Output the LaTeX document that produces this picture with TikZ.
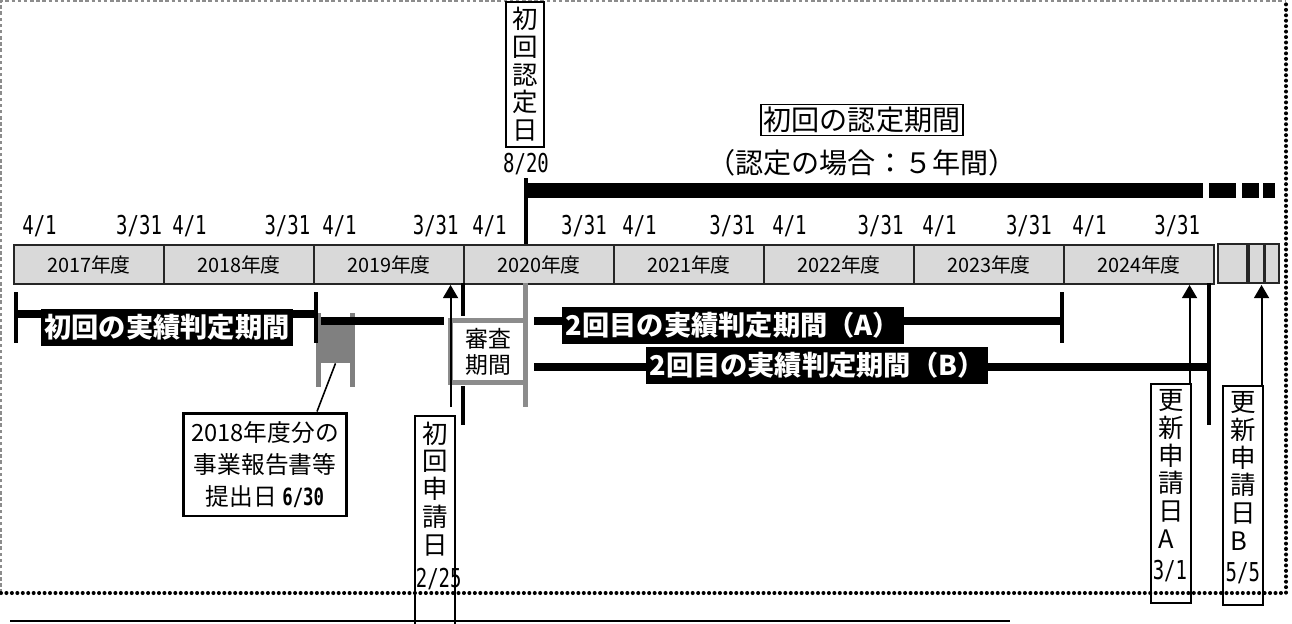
\documentclass[tikz,border=0pt]{standalone}
\usepackage{fontspec}
\setmainfont{Noto Sans CJK JP}
\newfontfamily\narrowfont[FakeStretch=0.73]{DejaVu Sans Mono}
\newcommand{\datefont}{\narrowfont\fontsize{14.8}{16}\selectfont}
\usetikzlibrary{arrows.meta}

\begin{document}
\begin{tikzpicture}[x=0.02cm,y=-0.02cm]
  \colorlet{barfill}{black!15}
  \colorlet{blockgray}{black!50}
  \colorlet{framegray}{black!45}
  \tikzset{
    yearbox/.style={draw=black!85,line width=1.1pt,fill=barfill,minimum width=3cm,minimum height=0.78cm,inner sep=0pt,anchor=north west,font=\fontsize{11.3}{13}\selectfont},
    datelbl/.style={inner sep=0pt,font=\datefont},
    vtext/.style={inner xsep=3.8pt,inner ysep=3pt,text width=14.5pt,align=left,font=\fontsize{14.5}{15.8}\selectfont},
    vframe/.style={line width=1.1pt},
    blacklbl/.style={fill=black,text=white,inner xsep=2pt,inner ysep=0pt,minimum height=0.74cm,font=\bfseries\fontsize{15.5}{17}\selectfont},
    period/.style={line width=4.5pt},
    endtick/.style={line width=2.3pt},
    arr/.style={line width=1.1pt,-{Triangle[width=8.5pt,length=7.5pt]}}
  }
  \useasboundingbox (0,0) rectangle (1292,623);

  \draw[framegray,line width=0.6pt,dash pattern=on 2pt off 1.5pt] (1,593) -- (1,1) -- (1286,1);
  \draw[line width=2.3pt,line cap=round,dash pattern=on 0pt off 3.1pt] (1,593) -- (1286,593) -- (1286,1);
  \draw[line width=0.9pt] (10,621) -- (1010,621);

  \foreach \i/\yr in {0/2017,1/2018,2/2019,3/2020,4/2021,5/2022,6/2023,7/2024}
    \node[yearbox] (y\yr) at (13+150*\i,244) {\yr 年度};
  \foreach \a/\b in {1218/1247,1249/1264,1265/1279}
    \draw[draw=black!85,line width=1.1pt,fill=barfill] (\a,244) rectangle (\b,283);
  \foreach \i in {0,...,7}
    \node[datelbl,anchor=base west] (apr\i) at (22+150*\i,234) {4/1};
  \foreach \i in {1,...,8}
    \node[datelbl,anchor=base east] (mar\i) at (14+148.3*\i,234) {3/31};

  \node[vtext,draw,vframe,anchor=north] (nintei) at (525,1) {初\\回\\認\\定\\日};
  \node[datelbl,anchor=base] (d820) at (526,172) {8/20};
  \draw[line width=2.8pt] ([yshift=-2pt]d820.south) -- (d820.south |- y2020.north);
  \fill (524.6,183) rectangle (1203,198);
  \foreach \a/\b in {1209/1236,1242/1259,1263/1275}
    \fill (\a,183) rectangle (\b,198);
  \node[draw,line width=0.9pt,inner sep=1.5pt,font=\fontsize{16}{18}\selectfont] (kikan) at (862,120) {初回の認定期間};
  \node[font=\fontsize{16}{18}\selectfont] (kikan5) at (862,163) {（認定の場合：５年間）};

  \draw[period] (16,314) -- (316,314);
  \node[fill=blockgray,minimum width=0.78cm,minimum height=0.92cm,inner sep=0pt] (teishutsu) at (335.5,340) {};
  \draw[blockgray,line width=3.2pt] (318.5,313) -- (318.5,387) (352.5,313) -- (352.5,387);
  \draw[endtick] (16,292) -- (16,343) (316,292) -- (316,343);

  \draw[period] (321,321) -- (1062,321);
  \draw[endtick] (1062,292) -- (1062,343);
  \draw[endtick] (463,283) -- (463,425) (1209,283) -- (1209,425);
  \draw[period] (463,367) -- (1209,367);

  \fill[white] (444,316) rectangle (534,386);
  \node[draw=framegray,fill=white,line width=2.8pt,minimum width=1.51cm,minimum height=1.24cm,inner sep=0pt,align=center,font=\fontsize{13}{14.7}\selectfont] (shinsa) at (488,351.5) {審査\\期間};
  \draw[framegray,line width=2.8pt] (525.5,283) -- (525.5,407);

  \node[blacklbl] (lbl1) at (167,327) {初回の実績判定期間};
  \node[blacklbl] (lblA) at (733,325) {2回目の実績判定期間（A）};
  \node[blacklbl] (lblB) at (817,365) {2回目の実績判定期間（B）};

  \node[draw,line width=1.7pt,minimum width=3.28cm,minimum height=2.06cm,align=center,font=\fontsize{13.5}{18}\selectfont] (houkoku) at (265,464.5) {2018年度分の\\事業報告書等\\提出日 {\narrowfont\bfseries 6/30}};
  \draw[line width=0.9pt] ([xshift=1.04cm]houkoku.north) -- (teishutsu.south);

  \node[vtext,anchor=north west] (sin1) at (415,416) {初\\回\\申\\請\\日\\[3pt]\hspace*{-3.5pt}{\datefont 2/25}};
  \draw[vframe] (sin1.north west) rectangle ([yshift=-1cm]sin1.south east);
  \draw[arr] ([shift={(-0.08cm,0.18cm)}]sin1.north east) -- ([xshift=-0.08cm]sin1.north east |- y2019.south);

  \node[vtext,anchor=north west] (koushinA) at (1151,384) {更\\新\\申\\請\\日\\A\\[2pt]\hspace*{-3pt}{\datefont 3/1}};
  \draw[vframe] (koushinA.north west) rectangle ([yshift=-0.3cm]koushinA.south east);
  \draw[arr] ([xshift=-0.02cm]koushinA.north east) -- ([xshift=-0.02cm]koushinA.north east |- y2024.south);

  \node[vtext,anchor=north west] (koushinB) at (1223,386) {更\\新\\申\\請\\日\\B\\[2pt]\hspace*{-2.5pt}{\datefont 5/5}};
  \draw[vframe] (koushinB.north west) rectangle ([yshift=-0.3cm]koushinB.south east);
  \draw[arr] ([xshift=-0.02cm]koushinB.north east) -- ([xshift=-0.02cm]koushinB.north east |- y2024.south);
\end{tikzpicture}
\end{document}
